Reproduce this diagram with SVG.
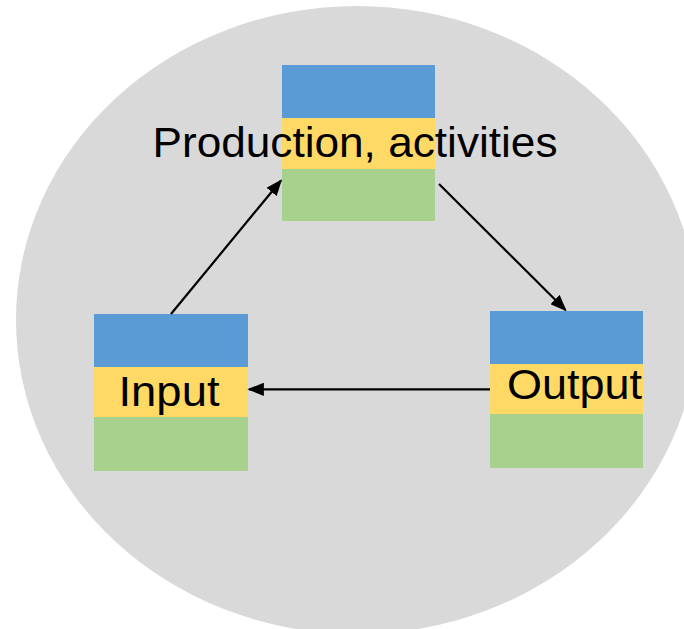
<svg xmlns="http://www.w3.org/2000/svg" width="684" height="629" viewBox="0 0 684 629">
<style>
.bg{fill:#D9D9D9}
.b{fill:#5B9BD5}
.y{fill:#FFD966}
.g{fill:#A9D18E}
.lbl{font-family:"Liberation Sans",Arial,sans-serif;font-size:43px;fill:#000}
.conn{stroke:#000;stroke-width:2.2;fill:none}
</style>
<defs>
<marker id="ah" viewBox="0 0 10 8" refX="9" refY="4" markerWidth="7.5" markerHeight="6" markerUnits="strokeWidth" orient="auto">
<path d="M0,0 L10,4 L0,8 z" fill="#000"/>
</marker>
</defs>
<rect width="684" height="629" fill="#fff"/>
<ellipse class="bg" cx="357" cy="320" rx="341" ry="314"/>
<g id="production">
<rect class="b" x="282" y="65" width="153" height="53"/>
<rect class="y" x="282" y="118" width="153" height="51"/>
<rect class="g" x="282" y="169" width="153" height="52"/>
<text class="lbl" x="152.5" y="157" textLength="405" lengthAdjust="spacingAndGlyphs">Production, activities</text>
</g>
<g id="input">
<rect class="b" x="94" y="314" width="154" height="53"/>
<rect class="y" x="94" y="367" width="154" height="50"/>
<rect class="g" x="94" y="417" width="154" height="54"/>
<text class="lbl" x="118.5" y="406" textLength="101" lengthAdjust="spacingAndGlyphs">Input</text>
</g>
<g id="output">
<rect class="b" x="490" y="311" width="153" height="53"/>
<rect class="y" x="490" y="364" width="153" height="50"/>
<rect class="g" x="490" y="414" width="153" height="54"/>
<text class="lbl" x="507" y="399" textLength="135" lengthAdjust="spacingAndGlyphs">Output</text>
</g>
<g id="connectors">
<line class="conn" x1="171" y1="314" x2="281" y2="180.5" marker-end="url(#ah)"/>
<line class="conn" x1="439" y1="184" x2="565.5" y2="310" marker-end="url(#ah)"/>
<line class="conn" x1="490" y1="389.3" x2="249" y2="389.3" marker-end="url(#ah)"/>
</g>
</svg>
